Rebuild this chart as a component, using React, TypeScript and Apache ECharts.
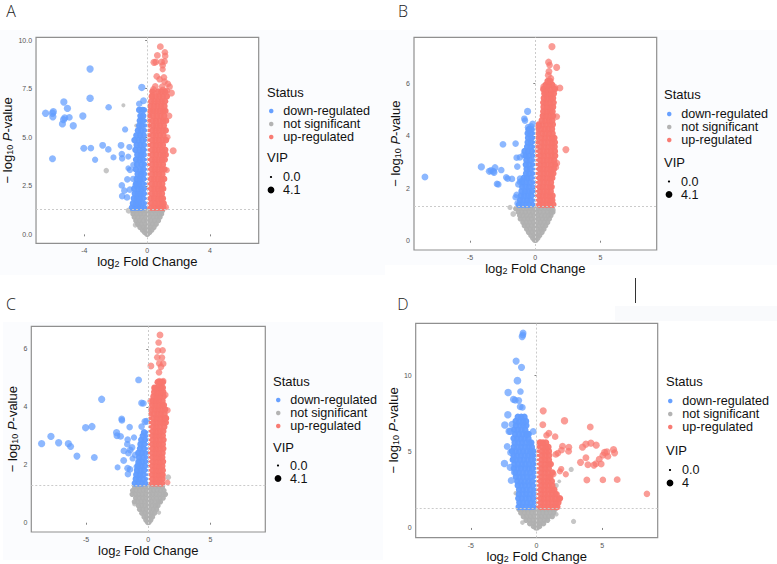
import React, { useEffect, useRef } from "react";
import * as echarts from "echarts";

const statusNames = ["down-regulated", "not significant", "up-regulated"];

// Rows: first number is -log10 P, the rest log2 FC. Outliers: [log2FC, -log10P, VIP]
const aDownRows = [
[1.38,-.96,-.78,-.58,-.38,-.18,-.06],[1.6,-.9,-.7,-.52,-.33,-.14],[1.85,-.84,-.64,-.46,-.27,-.09],[2.1,-.78,-.6,-.41,-.22,-.07],
[2.35,-.82,-.55,-.37,-.17],[2.6,-.7,-.5,-.31,-.12],[2.85,-.66,-.44,-.25,-.08],[3.1,-.6,-.4,-.2],[3.35,-.72,-.42,-.24,-.07],
[3.6,-.64,-.36,-.17],[3.85,-.7,-.46,-.29,-.1],[4.1,-.62,-.4,-.22],[4.35,-.74,-.47,-.27,-.12],[4.6,-.66,-.42,-.2],
[4.85,-.8,-.54,-.32,-.13],[5.1,-.68,-.44,-.22],[5.35,-.58,-.38,-.16],[5.6,-.5,-.32,-.14],[5.85,-.46,-.28,-.12],[6.1,-.42,-.25],[6.4,-.5,-.3,-.18]];
const aDownOut = [
[-6.46,6.23,3.5],[-6.02,6.23,3.5],[-5.97,6.31,3.5],[-6.0,6.05,3.5],[-5.3,6.81,3.5],[-5.07,6.48,3.5],[-5.24,5.99,3.4],[-5.32,5.9,3.4],[-4.95,6.02,3.2],
[-5.39,5.68,3.4],[-4.7,5.59,3.5],[-4.09,6.09,3.5],[-3.63,8.51,3.5],[-3.63,7.0,3.6],[-2.45,6.54,3],[-4.03,4.43,3.3],[-3.58,4.44,3.1],[-2.83,4.58,3.2],
[-2.47,4.37,3],[-6.02,3.89,3.3],[-3.31,3.84,2.8],[-2.14,3.96,2.7],[-1.66,4.58,3.2],[-1.13,4.49,2.8],[-1.4,5.4,2.8],[-1.61,4.13,3],[-1.59,3.91,2.9],
[-.34,7.56,3.5],[-.23,6.88,3.2],[-.5,6.72,3],[-1.61,2.52,3],[-1.26,2.83,3],[-.88,2.85,3],[-1.45,2.25,3],[-1.59,1.97,3],[-1.28,1.9,3],[-.73,2.54,3],
[-1.09,3.31,2.8],[-.88,3.57,2.8],[-1.2,4.0,2.6],[-1.1,2.3,3],[-1.2,3.4,2.4]];
const aUpRows = [
[1.38,.05,.26,.47,.68,.88,1.03],[1.6,.07,.28,.5,.72,.92,1.05],[1.85,.05,.24,.46,.66,.86,1.0],[2.1,.08,.3,.52,.74,.94],[2.35,.06,.27,.48,.7,.9,1.02],
[2.6,.09,.3,.53,.75,.96],[2.85,.07,.26,.47,.69,.9,1.08],[3.1,.1,.32,.54,.76,.97],[3.35,.08,.29,.5,.72,.93,1.1],[3.6,.11,.33,.55,.77,1.0],
[3.85,.09,.3,.52,.73,.95,1.12],[4.1,.12,.34,.56,.8,1.02,1.18],[4.35,.1,.31,.53,.74,.96,1.15],[4.6,.13,.35,.57,.79,1.0],[4.85,.11,.32,.54,.76,.98,1.2],
[5.1,.14,.36,.58,.8,1.04],[5.35,.12,.33,.55,.77,.99,1.18],[5.6,.15,.37,.6,.82,1.06],[5.85,.14,.35,.57,.8,1.02,1.2],[6.1,.17,.39,.62,.85,1.08],
[6.35,.2,.4,.6,.82,1.04,1.16],[6.6,.22,.44,.66,.88,1.1],[6.85,.26,.48,.7,.92,1.14],[7.1,.3,.55,.78,1.0,1.25],[7.35,.34,.7,.92,1.15]];
const aUpOut = [
[.84,9.66,3.2],[1.13,9.37,3],[.65,9.21,3.2],[1.15,9.18,3],[.44,8.85,3.4],[.55,8.87,3.2],[.92,8.87,3.2],[1.11,8.9,3],[.99,8.7,3],[.99,8.49,2.8],
[.61,8.13,3],[1.07,8.08,3],[.8,7.98,3],[.52,7.62,3],[.4,7.46,3],[1.32,7.74,3],[1.43,7.6,3],[1.11,7.86,3],[.96,7.6,3],[1.26,7.39,3],[1.55,7.27,3.2],
[.99,7.43,3],[.34,7.15,2.8],[1.4,6.1,3],[1.66,4.3,3.3],[1.3,5.0,2.6],[1.25,3.3,2.6],[1.2,1.4,2.6]];
const aGreyRows = [
[1.22,-.92,-.7,-.48,-.26,-.04,.18,.4,.62,.84,.98],[1.05,-.9,-.66,-.42,-.18,.06,.3,.54,.78,.92],[.88,-.82,-.58,-.34,-.1,.14,.38,.62,.82],
[.7,-.72,-.48,-.24,0,.24,.48,.72],[.52,-.6,-.38,-.14,.1,.34,.58],[.36,-.46,-.24,-.02,.2,.44],[.22,-.3,-.1,.1,.3],[.1,-.16,.02,.16],[.01,-.02,.03]];
const aGreyOut = [[-1.51,6.64,1.2],[-2.6,3.28,2.2],[-1.17,1.22,2.6],[-.75,.48,2],[-.7,2.6,1.4],[-.72,2.4,1.4],[-.7,5.6,1]];

const bDownRows = [
[1.38,-1.25,-1.0,-.74,-.48,-.22,-.05],[1.55,-1.16,-.9,-.64,-.38,-.14],[1.72,-1.1,-.84,-.58,-.32,-.08],[1.89,-1.05,-.78,-.52,-.26,-.06],[2.06,-1.0,-.74,-.48,-.22],
[2.23,-.98,-.7,-.44,-.18,-.05],[2.4,-.88,-.62,-.36,-.12],[2.57,-.7,-.46,-.2,-.06],[2.74,-.66,-.4,-.14],[2.91,-.72,-.46,-.2,-.08],[3.08,-.68,-.42,-.16],
[3.25,-.74,-.48,-.22,-.09],[3.42,-.82,-.54,-.28,-.12],[3.59,-.62,-.36,-.15],[3.76,-.58,-.32,-.13],[3.93,-.55,-.3,-.15],[4.1,-.58,-.36,-.14],[4.25,-.5,-.28]];
const bDownOut = [
[-8.47,2.43,3.2],[-4.14,2.82,3.5],[-3.53,2.65,3.3],[-3.4,2.68,3.3],[-3.22,2.65,3.3],[-3.09,2.79,3.3],[-3.17,2.61,3.3],[-2.61,2.7,3],[-2.94,2.17,3],[-2.84,2.15,3],
[-2.23,2.42,3],[-2.12,2.37,3],[-1.79,2.36,3],[-2.48,3.68,3.2],[-1.51,3.71,3],[-1.38,2.83,3],[-1.43,3.17,3],[-1.18,3.18,3],[-.59,4.94,3.4],[-.84,4.66,3],[-.79,4.59,3],
[-.2,4.46,3.2],[-.54,4.33,3.3],[-.33,4.36,3.3],[-.49,4.23,3.3],[-1.18,2.25,3],[-1.05,2.28,3],[-1.3,2.15,3],[-1.43,1.75,3],[-1.51,1.66,3],[-1.36,1.43,3],[-.92,3.27,2.8],[-1.18,2.38,2.8]];
const bUpRows = [
[1.38,.07,.33,.6,.87,1.14,1.38],[1.55,.09,.36,.63,.9,1.16,1.3],[1.72,.06,.32,.59,.85,1.12,1.32],[1.89,.1,.37,.64,.91,1.18],[2.06,.08,.34,.6,.87,1.14,1.25],
[2.23,.11,.38,.65,.92,1.2],[2.4,.09,.35,.62,.88,1.15,1.3],[2.57,.12,.39,.66,.93,1.2,1.38],[2.74,.1,.36,.63,.9,1.17,1.42],[2.91,.13,.4,.67,.94,1.22,1.5],
[3.08,.11,.37,.64,.91,1.18,1.45],[3.25,.14,.41,.68,.95,1.24,1.52],[3.42,.12,.38,.65,.92,1.2,1.5],[3.59,.16,.43,.7,.97,1.26,1.48],[3.76,.18,.45,.72,1.0,1.28,1.5],
[3.93,.2,.47,.74,1.02,1.3,1.46],[4.1,.22,.5,.78,1.05,1.32],[4.27,.2,.46,.73,1.0,1.28],[4.44,.28,.56,.84,1.12,1.34],[4.6,.5,.78,1.06,1.3],[4.77,.58,.84,1.1,1.36],
[4.94,.62,.88,1.14,1.32],[5.11,.64,.9,1.16,1.36],[5.28,.62,.86,1.12,1.4],[5.45,.66,.92,1.18,1.36],[5.62,.7,.94,1.2,1.42],[5.79,.62,.9,1.14,1.5],[5.95,.8,1.06,1.3],[6.1,.95,1.15]];
const bUpOut = [
[1.28,7.41,3.4],[1.02,6.82,3.3],[1.1,6.71,3],[1.64,6.62,3.3],[1.05,6.46,3.2],[1.0,6.32,3.2],[1.2,6.2,3],[.64,5.89,3],[1.89,5.83,3.2],[1.51,5.86,3],[.74,5.69,3],
[1.64,4.74,3.2],[2.35,3.48,3.3],[1.66,2.96,3],[.23,4.38,2.8],[1.6,2.8,2.6]];
const bGreyRows = [
[1.22,-1.5,-1.22,-.94,-.66,-.38,-.1,.18,.46,.74,1.02,1.3],[1.09,-1.3,-1.02,-.74,-.46,-.18,.1,.38,.66,.94,1.22,1.35],[.96,-1.2,-.94,-.66,-.38,-.1,.18,.46,.74,1.02,1.2],
[.83,-1.15,-.86,-.58,-.3,-.02,.26,.54,.82,1.08],[.7,-.95,-.7,-.42,-.14,.14,.42,.7,.95],[.57,-.84,-.58,-.3,-.02,.26,.54,.8],[.44,-.66,-.4,-.12,.16,.44,.66],
[.32,-.52,-.26,.02,.28,.52],[.2,-.34,-.08,.16,.34],[.1,-.2,0,.2],[.02,-.06,.06]];
const bGreyOut = [[-1.94,1.27,2],[-1.69,1.02,2.4],[1.38,1.17,2],[.5,4.78,.6]];

const cDownRows = [
[1.36,-1.08,-.8,-.52,-.24,-.06],[1.51,-1.0,-.72,-.44,-.16],[1.66,-.96,-.68,-.4,-.12],[1.81,-.9,-.62,-.34,-.07],[1.96,-.84,-.56,-.28],[2.11,-.78,-.5,-.22,-.05],
[2.26,-.74,-.46,-.18],[2.41,-.8,-.52,-.24,-.07],[2.56,-.66,-.38,-.12],[2.71,-.62,-.34,-.08],[2.86,-.56,-.28,-.1],[3.0,-.44,-.2],[3.12,-.34,-.14]];
const cDownOut = [
[-8.58,2.73,3.5],[-7.83,2.98,3.5],[-7.21,2.76,3.5],[-6.43,2.73,3.5],[-6.25,2.63,3.3],[-5.74,2.3,3.3],[-5.04,3.28,3.5],[-4.53,3.32,3.5],[-4.34,2.25,3.2],[-3.75,4.26,3.5],
[-2.55,3.11,3.5],[-2.52,3.0,3.2],[-2.23,2.98,3.2],[-2.14,3.58,3.2],[-2.12,3.53,3],[-1.5,3.3,3],[-.78,4.93,3.2],[-.54,4.13,3.2],[-.4,4.12,3.2],[-.27,3.49,3.3],[-.13,3.5,3.3],
[-.54,3.32,3],[-1.15,2.94,2.8],[-1.66,2.87,3],[-1.69,2.71,3],[-1.96,2.48,3.2],[-1.45,2.51,3.2],[-1.98,2.15,3.2],[-2.47,1.91,2.6],[-1.66,1.88,3.2],[-1.47,1.84,3],[-1.64,1.68,3],
[-1.26,2.22,2.8],[-.94,1.93,2.8],[-1.07,2.34,2.8],[-.8,2.05,2.6],[-1.6,2.4,3],[-1.3,2.6,3]];
const cUpRows = [
[1.36,.06,.33,.6,.87,1.1],[1.51,.08,.36,.63,.9,1.14],[1.66,.06,.32,.59,.86,1.1],[1.81,.09,.36,.63,.9,1.16],[1.96,.07,.34,.61,.88,1.12],[2.11,.1,.37,.64,.91,1.18],
[2.26,.08,.35,.62,.89,1.12],[2.41,.06,.33,.6,.87,1.14],[2.56,.09,.36,.63,.9,1.2],[2.71,.07,.34,.61,.88,1.16],[2.86,.1,.37,.64,.91,1.22],[3.01,.08,.35,.62,.89,1.16],
[3.16,.11,.38,.65,.92,1.2],[3.31,.12,.39,.66,.93,1.28],[3.46,.14,.41,.68,.95,1.22,1.4],[3.61,.16,.43,.7,.97,1.26,1.42],[3.76,.2,.47,.74,1.0,1.3],[3.91,.26,.53,.8,1.06,1.35],
[4.06,.32,.58,.84,1.1,1.25],[4.21,.36,.62,.88,1.14],[4.36,.42,.68,.94,1.22],[4.51,.48,.74,1.0,1.2],[4.66,.5,.76,1.0,1.16],[4.85,.76,.96,1.16]];
const cUpOut = [
[.94,6.48,3.2],[.83,6.22,3],[.78,5.94,3],[1.15,5.95,3],[.72,5.71,3],[1.1,5.7,3],[.88,5.5,3],[1.2,5.49,3],[.21,5.41,3.2],[1.02,5.38,3],[.86,5.19,3],[.88,4.89,3],[1.2,4.89,3],
[1.55,3.88,2.8],[1.42,3.6,2.8],[.54,4.62,3.2],[.19,4.2,3],[1.39,4.41,2.6],[1.55,1.39,2.4],[1.2,1.65,2.4]];
const cGreyRows = [
[1.24,-1.1,-.82,-.54,-.26,.02,.3,.58,.86,1.14],[1.11,-1.26,-.98,-.7,-.42,-.14,.14,.42,.7,.98,1.26],[.98,-1.3,-1.04,-.76,-.48,-.2,.08,.36,.64,.92,1.2,1.38],
[.85,-1.02,-.74,-.46,-.18,.1,.38,.66,.94,1.2],[.72,-1.12,-.84,-.56,-.28,0,.28,.56,.84,.98],[.59,-.8,-.54,-.26,.02,.3,.58,.78],[.46,-.7,-.44,-.16,.12,.4,.66],
[.33,-.52,-.26,.02,.28,.5],[.2,-.34,-.1,.14,.34],[.09,-.2,0,.2],[.01,-.05,.05]];
const cGreyOut = [[1.6,1.57,2.4],[.86,.35,1.4],[-1.1,.65,1.8]];

const dDownRows = [
[1.38,-1.35,-1.08,-.8,-.52,-.24,-.05],[1.66,-1.3,-1.02,-.74,-.46,-.18],[1.94,-1.38,-1.1,-.82,-.54,-.26,-.06],[2.22,-1.34,-1.06,-.78,-.5,-.22],[2.5,-1.32,-1.04,-.76,-.48,-.2,-.05],
[2.78,-1.42,-1.14,-.86,-.58,-.3,-.08],[3.06,-1.46,-1.18,-.9,-.62,-.34,-.1],[3.34,-1.56,-1.28,-1.0,-.72,-.44,-.16],[3.62,-1.6,-1.32,-1.04,-.76,-.48,-.2],
[3.9,-1.72,-1.44,-1.16,-.88,-.6,-.32,-.12],[4.18,-1.68,-1.4,-1.12,-.84,-.56,-.28,-.14],[4.46,-1.8,-1.52,-1.24,-.96,-.68,-.4,-.18],[4.74,-1.74,-1.46,-1.18,-.9,-.62,-.34,-.2],
[5.02,-1.86,-1.58,-1.3,-1.02,-.74,-.46,-.26],[5.3,-1.72,-1.44,-1.16,-.88,-.6,-.36],[5.58,-1.66,-1.38,-1.1,-.82,-.54,-.4],[5.86,-1.74,-1.46,-1.18,-.9,-.62],
[6.14,-1.62,-1.34,-1.06,-.78,-.6],[6.42,-1.7,-1.42,-1.14,-.86],[6.7,-1.56,-1.28,-1.0,-.78],[6.98,-1.58,-1.3,-1.02,-.8],[7.26,-1.42,-1.16,-.92]];
const dDownOut = [
[-1.02,12.75,3.2],[-1.04,12.62,3.2],[-1.09,12.51,3.4],[-1.55,10.91,3.4],[-1.14,10.5,3.4],[-1.45,9.63,3.8],[-1.22,8.92,3],[-2.16,8.85,3.6],[-1.75,8.4,3.4],[-1.62,8.35,3.2],[-1.35,8.33,3.2],
[-1.24,7.92,3.2],[-1.07,7.88,3],[-2.18,7.4,3.6],[-2.41,6.73,3.6],[-1.85,6.77,3.4],[-2.08,6.32,3.6],[-2.0,6.32,3.4],[-.25,6.3,3.2],[-.69,6.15,3.2],[-2.23,5.32,3.2],[-2.44,4.22,3.6],
[-1.95,4.94,3.6],[-2.0,3.96,3.4],[-1.93,3.1,3.2],[-1.7,3.64,3],[-1.75,4.5,3]];
const dUpRows = [
[1.38,.05,.32,.6,.88,1.16,1.42,1.58],[1.66,.06,.34,.62,.9,1.18,1.46,1.66],[1.94,.05,.33,.6,.88,1.16,1.44,1.78],[2.22,.07,.35,.63,.91,1.19,1.46],[2.5,.06,.33,.61,.89,1.17,1.35],
[2.78,.08,.36,.64,.92,1.2],[3.06,.06,.34,.62,.9,1.16],[3.34,.08,.36,.64,.92,1.05],[3.62,.07,.35,.63,.91,1.22],[3.9,.09,.37,.65,.93],[4.18,.08,.36,.64,.92,1.08],[4.46,.1,.38,.66,.94],
[4.74,.12,.4,.68,.96],[5.02,.14,.42,.7,.94],[5.3,.16,.44,.7,.9],[5.58,.25,.5,.72]];
const dUpOut = [
[.51,7.66,3.4],[.48,6.75,3.2],[2.13,7.01,3.6],[4.09,6.6,3.2],[.94,6.19,3.2],[.76,6.06,3],[1.42,5.97,3],[.33,5.58,3],[1.98,5.35,3.2],[2.46,5.28,3.2],[1.9,5.09,3.2],[2.44,5.02,3.2],[3.5,5.28,3.4],
[3.76,5.48,3.4],[4.14,5.54,3.4],[4.54,5.41,3.4],[1.47,4.81,3.2],[1.62,4.89,3],[5.18,4.94,3.4],[5.36,4.98,3.4],[5.86,5.13,3.4],[5.94,4.91,3.4],[5.05,4.76,3.2],[5.43,4.68,3.2],[4.77,4.5,3.2],
[3.35,4.29,3.3],[3.76,4.59,3.2],[3.91,4.13,3.2],[4.37,4.11,3.4],[4.52,4.2,3.2],[4.92,4.18,3.2],[3.83,3.14,3.2],[5.05,3.14,3],[6.14,3.16,3.2],[8.4,2.23,3],[1.88,3.85,2.8],[1.78,3.7,2.8],
[2.23,3.51,2.8],[1.29,3.51,2.8],[1.73,1.9,3],[1.55,2.2,2.8]];
const dGreyRows = [
[1.22,-1.34,-1.06,-.78,-.5,-.22,.06,.34,.62,.9,1.18,1.42],[.98,-1.2,-.92,-.64,-.36,-.08,.2,.48,.76,1.04,1.3],[.74,-1.0,-.74,-.46,-.18,.1,.38,.66,.94,1.2],
[.5,-.8,-.54,-.26,.02,.3,.58,.84],[.28,-.52,-.26,.02,.28,.54],[.1,-.24,0,.24],[.01,-.06,.06]];
const dGreyOut = [[2.64,3.83,2],[1.5,2.77,2],[2.82,.43,2],[-1.07,.35,1.6],[-1.57,2.27,1.6],[1.73,3.05,1],[1.5,.9,1.6]];

const aXTicks = [-4, 0, 4];
const aYTicks = [0, 2.5, 5, 7.5, 10];
const bXTicks = [-5, 0, 5];
const bYTicks = [0, 2, 4, 6];
const cXTicks = [-5, 0, 5];
const cYTicks = [0, 2, 4, 6];
const dXTicks = [-5, 0, 5];
const dYTicks = [0, 5, 10];

const FONT = "'Liberation Sans', Arial, sans-serif";
const COLORS = ["#619cff", "#b0b0b0", "#f8766d"];
const FS = 13;
const FS_ROW = 12.6;
const rowsToPoints = (rows: number[][]) => rows.flatMap((r) => r.slice(1).map((x) => [x, r[0]]));

const panels = [
  { letter: "A", lx: 11, ly: 11, rect: [33.3, 37.3, 225.4, 206], xr: [-7.07, 7.1], yr: [-0.46, 10.14], xt: aXTicks, yt: aYTicks, yd: 1,
    down: [aDownRows, aDownOut], grey: [aGreyRows, aGreyOut], up: [aUpRows, aUpOut], vip: "4.1",
    lg: { tx: 267, mx: 271, status: 92, rows: 111, vip: 157, v0: 177, v1: 190 }, nameX: 254.5, nameY: 9 },
  { letter: "B", lx: 403, ly: 11, rect: [414, 37.3, 242.7, 212.7], xr: [-9.31, 9.32], yr: [-0.355, 7.77], xt: bXTicks, yt: bYTicks, yd: 0,
    down: [bDownRows, bDownOut], grey: [bGreyRows, bGreyOut], up: [bUpRows, bUpOut], vip: "4.1",
    lg: { tx: 664, mx: 669, status: 94, rows: 114, vip: 162, v0: 181.5, v1: 194.5 }, nameX: 263, nameY: 398 },
  { letter: "C", lx: 11, ly: 304, rect: [31.3, 326.3, 234, 205.7], xr: [-9.41, 9.41], yr: [-0.32, 6.78], xt: cXTicks, yt: cYTicks, yd: 0,
    down: [cDownRows, cDownOut], grey: [cGreyRows, cGreyOut], up: [cUpRows, cUpOut], vip: "4.1",
    lg: { tx: 273, mx: 278, status: 381, rows: 400, vip: 447, v0: 465.5, v1: 478.5 }, nameX: 543.5, nameY: 17 },
  { letter: "D", lx: 403, ly: 304, rect: [415.7, 323.3, 242, 215.7], xr: [-9.19, 9.22], yr: [-0.63, 13.38], xt: dXTicks, yt: dYTicks, yd: 0,
    down: [dDownRows, dDownOut], grey: [dGreyRows, dGreyOut], up: [dUpRows, dUpOut], vip: "4",
    lg: { tx: 666, mx: 670, status: 381, rows: 401, vip: 450, v0: 470, v1: 483 }, nameX: 551, nameY: 395 },
];

const vipSize = (v: number) => 2.4 + v * 1.4;

function buildOption() {
  const grid: any[] = [], xAxis: any[] = [], yAxis: any[] = [], series: any[] = [], legend: any[] = [];
  const graphic: any[] = [
    { type: "rect", z: -10, shape: { x: 0, y: 30, width: 385, height: 245 }, style: { fill: "#fbfcfe" } },
    { type: "rect", z: -10, shape: { x: 385, y: 30, width: 392, height: 235 }, style: { fill: "#fbfcfe" } },
    { type: "rect", z: -10, shape: { x: 3, y: 322, width: 380, height: 238 }, style: { fill: "#fbfcfe" } },
    { type: "rect", z: -10, shape: { x: 615, y: 306, width: 162, height: 15 }, style: { fill: "#f9fafc" } },
    { type: "line", shape: { x1: 635.5, y1: 278, x2: 635.5, y2: 303 }, style: { stroke: "#333", lineWidth: 1 } },
  ];
  const textBase = { fontFamily: FONT, fill: "#111" };
  panels.forEach((p, i) => {
    grid.push({ left: p.rect[0], top: p.rect[1], width: p.rect[2], height: p.rect[3], show: true, backgroundColor: "#fff", borderColor: "#8f8f8f", borderWidth: 1.2, containLabel: false });
    const axisCommon = {
      gridIndex: i, type: "value", splitLine: { show: false }, axisLine: { show: false },
      nameLocation: "middle",
    };
    xAxis.push({
      ...axisCommon, min: p.xr[0], max: p.xr[1],
      axisTick: { show: true, length: 2, lineStyle: { color: "#666", width: 0.8 }, customValues: p.xt },
      axisLabel: { fontSize: 7, color: "#555", fontFamily: FONT, margin: 4, customValues: p.xt },
      name: "log{sub|2} Fold Change", nameGap: p.nameX - p.rect[1] - p.rect[3] - 7,
      nameTextStyle: { fontSize: FS, color: "#111", fontFamily: FONT, rich: { sub: { fontSize: 9, fontFamily: FONT, color: "#111", padding: [5, 0, 0, 0] } } },
    });
    yAxis.push({
      ...axisCommon, min: p.yr[0], max: p.yr[1],
      axisTick: { show: true, length: 2, lineStyle: { color: "#666", width: 0.8 }, customValues: p.yt },
      axisLabel: { fontSize: 7, color: "#555", fontFamily: FONT, margin: 4, customValues: p.yt, formatter: (v: number) => v.toFixed(p.yd) },
      name: "\u2212 log{sub|10} {it|P}-value", nameGap: p.rect[0] - p.nameY - 7,
      nameTextStyle: { fontSize: FS, color: "#111", fontFamily: FONT, rich: { sub: { fontSize: 9, fontFamily: FONT, color: "#111", padding: [5, 0, 0, 0] }, it: { fontSize: FS, fontStyle: "italic", fontFamily: FONT, color: "#111" } } },
    });
    const pxPerUnit = p.rect[2] / (p.xr[1] - p.xr[0]);
    // Dense band: marks shrink close to x = 0, as VIP falls with |log2FC|, so the two colours meet at the axis.
    const dense = (name: string, color: string, rows: number[][], max: number, hug: boolean, z: number, lines: boolean) => ({
      type: "scatter", name, xAxisIndex: i, yAxisIndex: i, z, silent: true,
      data: rowsToPoints(rows),
      symbolSize: (d: number[]) => (hug ? Math.min(max, Math.max(2.5, 2 * Math.abs(d[0]) * pxPerUnit)) : max),
      itemStyle: { color, opacity: 0.96 },
      ...(lines ? { markLine: { silent: true, symbol: "none", animation: false, label: { show: false }, lineStyle: { color: "#cbcbcb", type: [2, 2], width: 1 }, data: [{ xAxis: 0 }, { yAxis: 1.3 }] } } : {}),
    });
    const sparse = (name: string, color: string, pts: number[][], z: number) => ({
      type: "scatter", name, xAxisIndex: i, yAxisIndex: i, z, silent: true,
      data: pts,
      symbolSize: (d: number[]) => vipSize(d[2]),
      itemStyle: { color, opacity: 0.72 },
    });
    series.push(dense(statusNames[1], COLORS[1], p.grey[0], 5.4, false, 2, true));
    series.push(sparse(statusNames[1], COLORS[1], p.grey[1], 2));
    series.push(dense(statusNames[0], COLORS[0], p.down[0], 6.6, true, 3, false));
    series.push(sparse(statusNames[0], COLORS[0], p.down[1], 3));
    series.push(dense(statusNames[2], COLORS[2], p.up[0], 6.6, true, 4, false));
    series.push(sparse(statusNames[2], COLORS[2], p.up[1], 4));
    const L = p.lg;
    legend.push({
      left: L.mx - 2, top: L.rows - 6.5, orient: "vertical", itemGap: 0, itemWidth: 14, itemHeight: 4.5, padding: 0,
      icon: "circle", selectedMode: false, data: statusNames,
      textStyle: { fontSize: FS_ROW, lineHeight: 13, height: 13, color: "#111", fontFamily: FONT },
    });
    graphic.push(
      { type: "text", x: p.lx, y: p.ly, style: { text: p.letter, fontFamily: "'Open Sans', sans-serif", fontWeight: 300, fontSize: 16, fill: "#222", align: "center", verticalAlign: "middle" } },
      { type: "text", x: L.tx, y: L.status, style: { ...textBase, text: "Status", fontSize: FS, verticalAlign: "middle" } },
      { type: "text", x: L.tx, y: L.vip, style: { ...textBase, text: "VIP", fontSize: FS, verticalAlign: "middle" } },
      { type: "circle", shape: { cx: L.mx, cy: L.v0, r: 1.1 }, style: { fill: "#000" } },
      { type: "circle", shape: { cx: L.mx, cy: L.v1, r: 3.4 }, style: { fill: "#000" } },
      { type: "text", x: L.mx + 12, y: L.v0, style: { ...textBase, text: "0.0", fontSize: FS_ROW, verticalAlign: "middle" } },
      { type: "text", x: L.mx + 12, y: L.v1, style: { ...textBase, text: p.vip, fontSize: FS_ROW, verticalAlign: "middle" } },
    );
  });
  return { animation: false, backgroundColor: "#ffffff", grid, xAxis, yAxis, series, legend, graphic };
}

export default function App() {
  const ref = useRef<HTMLDivElement>(null);
  useEffect(() => {
    document.body.style.margin = "0";
    const chart = echarts.init(ref.current!, undefined, { renderer: "svg" });
    chart.setOption(buildOption() as any);
    return () => chart.dispose();
  }, []);
  return <div ref={ref} style={{ width: 777, height: 564 }} />;
}
